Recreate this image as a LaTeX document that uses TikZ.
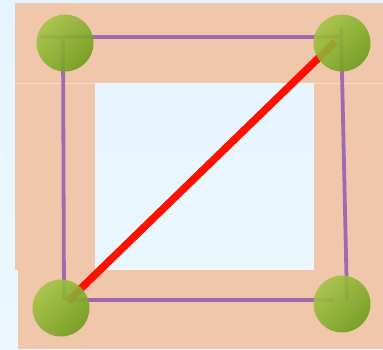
\documentclass[tikz,border=0pt]{standalone}
\usetikzlibrary{calc}
\definecolor{bgblue}{HTML}{E4F4FE}
\definecolor{bgblue2}{HTML}{ECF8FE}
\definecolor{peach}{HTML}{F0C7AB}
\definecolor{edgepurple}{HTML}{9C6BB0}
\definecolor{ballA}{HTML}{A3C445}
\definecolor{ballB}{HTML}{6E9C1A}
\definecolor{diagred}{HTML}{FF1000}
\tikzset{
  peachbox/.style={fill=peach, draw=none},
  edgeline/.style={draw=edgepurple, line width=3.8pt},
  diagline/.style={draw=diagred, line width=7.5pt},
  ball/.style={circle, minimum size=57pt, inner sep=0pt, draw=none,
    top color=ballA, bottom color=ballB, shading angle=45, fill opacity=0.9},
}
\begin{document}
\begin{tikzpicture}[x=1pt,y=-1pt]
\useasboundingbox (0,0) rectangle (383,349);
\shade[top color=bgblue, bottom color=bgblue2] (0,0) rectangle (383,349);
% peach frame
\fill[peachbox] (15,3) rectangle (383,83);
\fill[peachbox] (15,83) rectangle (95,270);
\fill[peachbox] (314,83) rectangle (383,270);
\fill[peachbox] (18,270) rectangle (383,349);
\draw[white, opacity=0.35, line width=0.6pt] (15,83) -- (383,83);
% corner coordinates of the square
\coordinate (tl) at (63,37);
\coordinate (tlx) at (40,37);
\coordinate (tr) at (341,37);
\coordinate (trt) at (341,27);
\coordinate (br) at (347,301);
\coordinate (bl) at (64,300);
\coordinate (blx) at (68,300);
\coordinate (brx) at (333,300);
\coordinate (d1) at (68,301);
\coordinate (d2) at (335,42);
% edges
\draw[edgeline] (tlx) -- (tr);
\draw[edgeline] (tl) -- (bl);
\draw[edgeline] (trt) -- (br);
\draw[edgeline] (blx) -- (brx);
\draw[diagline] (d1) -- (d2);
% balls
\node[ball] (n1) at (65,43) {};
\node[ball] (n2) at (342,43) {};
\node[ball] (n3) at (61,308) {};
\node[ball] (n4) at (342,304) {};
\end{tikzpicture}
\end{document}
